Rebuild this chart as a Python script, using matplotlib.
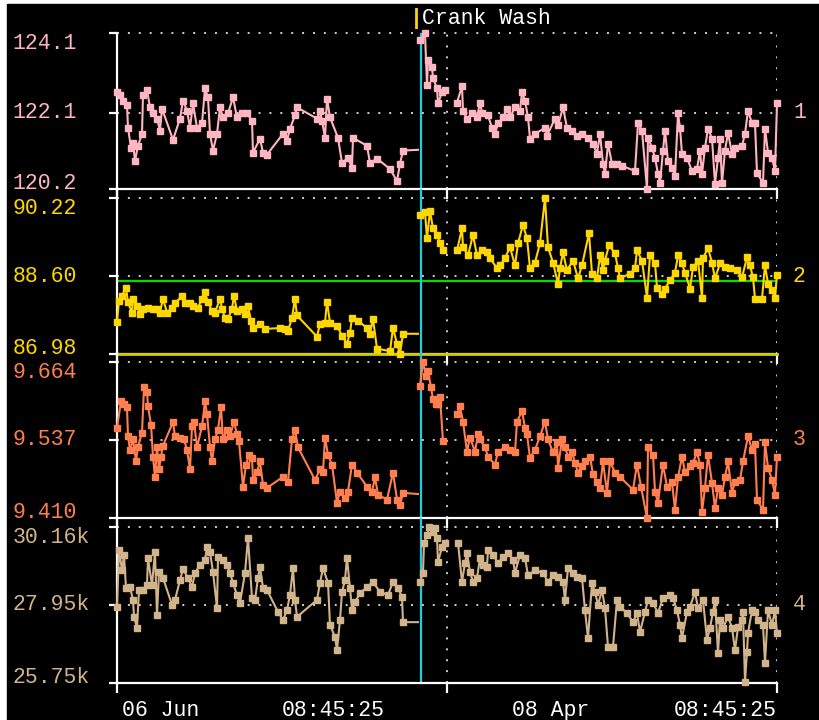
import numpy as np
import matplotlib
matplotlib.use("Agg")
import matplotlib.pyplot as plt
from matplotlib.patches import Rectangle
from matplotlib.transforms import blended_transform_factory, offset_copy

plt.rcParams['font.family'] = ['Liberation Mono', 'DejaVu Sans Mono']

# time axis (sample clock), day boundary and the crank wash event
t_first, t_last = 117, 777
t_split = 447
t_wash = 421

# --- series 1 (pink) ---
t1a = [117,120,123,127,128,131,133,135,138,142,143,147,150,153,157,160,162,173,180,183,
       187,190,193,197,202,205,208,210,213,217,220,223,228,233,237,242,247,252,253,260,
       263,267,283,287,290,295,297,317,320,322,325,327,330,338,342,348,352,353,367,370,
       377,390,397,400,403,418]
v1a = [122.62,122.54,122.41,122.31,121.73,121.23,121.36,120.90,121.28,121.58,122.54,122.67,122.24,122.11,121.96,
       121.66,122.21,121.43,121.96,122.41,122.16,121.73,122.34,121.73,121.84,122.72,122.49,121.58,121.16,121.58,
       122.24,121.99,122.09,122.49,121.99,122.09,122.09,121.91,121.11,121.46,121.11,121.06,121.58,121.41,121.71,
       122.04,122.24,121.96,122.16,121.91,121.48,122.46,121.99,121.48,120.85,120.98,120.73,121.48,121.28,120.85,
       120.96,120.70,120.40,120.83,121.16,121.18]
t1b = [420,425,427,428,432,433,437,438,442,445,457,462,463,467,472,477,480,482,488,492,
       495,498,503,507,510,515,520,522,525,528,530,535,545,547,555,558,563,567,572,577,
       582,588,593,597,600,603,605,608,612,617,622,635,638,642,647,648,652,655,658,660,
       663,665,668,672,675,678,680,682,687,692,697,700,702,705,708,712,715,718,720,722,
       725,728,732,735,742,745,748,752,755,757,763,765,768,772,775,777]
v1b = [123.92,124.10,122.79,123.42,123.24,122.97,122.72,122.34,122.62,122.67,122.36,122.77,122.16,121.96,122.09,
       121.99,122.36,122.11,122.04,121.73,121.58,121.84,121.99,122.21,121.99,122.24,122.16,122.62,122.41,121.99,
       121.46,121.58,121.73,121.53,121.96,121.79,122.24,121.73,121.66,121.53,121.58,121.48,121.33,121.08,121.58,
       120.83,120.58,121.33,120.83,120.83,120.78,120.65,121.84,121.66,120.20,121.48,121.23,120.98,120.58,120.35,
       121.16,121.66,120.90,120.73,120.53,122.09,121.73,121.08,120.98,120.65,120.70,121.16,120.58,121.23,121.71,
       121.46,120.33,120.98,121.46,120.35,121.16,121.61,121.08,121.23,121.28,121.58,122.16,121.84,121.84,120.60,
       120.35,121.71,121.11,120.98,120.65,122.34]

# --- series 2 (yellow) ---
t2a = [117,119,122,126,128,132,133,137,140,143,148,153,157,160,163,167,172,175,182,185,
       190,193,198,202,205,208,212,215,220,222,225,228,232,234,237,242,245,248,251,253,
       260,265,280,285,288,292,295,297,317,320,325,327,330,337,342,347,350,352,358,367,
       370,373,377,390,393,397,400,403,418]
v2a = [87.65,88.09,88.19,88.36,88.05,87.84,88.13,87.98,87.82,87.92,87.94,87.92,87.92,87.84,88.13,
       87.84,87.94,88.03,88.19,88.03,88.03,87.98,87.94,88.13,88.26,88.05,87.88,87.84,88.13,87.92,
       87.73,87.71,87.92,88.19,87.88,87.92,87.82,87.98,87.67,87.52,87.61,87.50,87.52,87.50,87.46,
       87.73,88.13,87.78,87.34,87.61,87.63,88.07,87.63,87.57,87.36,87.19,87.42,87.73,87.67,87.52,
       87.40,87.71,87.09,87.04,87.52,87.19,86.98,87.40,87.40]
t2b = [420,425,427,430,433,437,440,443,457,462,463,468,473,477,482,487,490,497,500,505,
       510,515,518,523,527,530,535,540,545,548,553,558,560,563,567,573,578,582,589,592,
       597,600,603,605,609,615,618,620,630,635,637,642,647,650,655,657,662,665,670,675,
       678,682,685,690,693,698,702,703,708,712,715,720,725,730,737,742,747,750,753,755,
       762,765,768,772,775,777]
v2b = [89.86,89.93,89.38,89.95,89.59,89.45,89.28,89.13,89.13,89.59,89.20,89.03,89.45,89.03,89.13,
       89.09,88.97,88.76,88.82,88.97,89.20,88.82,89.28,89.66,89.38,88.76,88.88,89.28,90.22,89.20,
       88.88,88.44,88.76,89.09,88.72,88.92,88.55,88.82,89.49,88.65,88.55,89.03,88.72,88.92,89.24,
       89.07,88.76,88.55,88.65,88.76,89.13,88.92,88.15,89.03,88.86,88.36,88.23,88.34,88.51,88.67,
       89.03,88.86,88.67,88.34,88.78,88.92,88.15,88.97,89.18,88.88,88.55,88.86,88.78,88.76,88.72,
       88.57,88.99,88.82,88.57,88.13,88.13,88.82,88.44,88.30,88.15,88.63]
upper_limit_2 = 88.49
lower_limit_2 = 86.98

# --- series 3 (coral) ---
t3a = [117,121,124,127,128,130,133,136,138,142,144,147,148,151,153,155,157,159,161,163,
       173,175,180,184,187,190,192,194,197,202,205,207,210,212,215,218,221,223,227,230,
       234,237,239,243,246,249,252,253,257,260,263,267,283,288,292,295,298,315,320,323,
       325,328,332,337,340,345,348,352,357,367,372,375,378,387,393,397,400,403,418]
v3a = [9.557,9.600,9.595,9.590,9.543,9.521,9.538,9.503,9.526,9.549,9.623,9.615,9.592,9.562,9.510,
       9.476,9.526,9.489,9.510,9.528,9.566,9.543,9.541,9.538,9.521,9.489,9.559,9.567,9.525,9.559,
       9.600,9.579,9.526,9.502,9.538,9.554,9.590,9.538,9.554,9.543,9.567,9.546,9.535,9.461,9.497,
       9.513,9.508,9.472,9.485,9.502,9.464,9.459,9.477,9.469,9.538,9.554,9.525,9.472,9.489,9.485,
       9.541,9.513,9.497,9.435,9.453,9.443,9.453,9.497,9.484,9.461,9.453,9.476,9.448,9.440,9.484,
       9.440,9.431,9.451,9.449]
t3b = [420,423,426,428,431,433,436,438,440,443,457,460,463,467,470,475,478,480,485,488,
       495,498,505,510,515,517,522,525,527,530,535,540,545,548,553,557,558,562,565,568,
       572,575,578,582,585,590,593,597,600,603,607,610,615,620,633,637,641,647,648,653,
       655,658,663,667,672,675,678,682,685,690,693,697,700,702,705,708,712,715,718,722,
       725,728,732,735,740,743,748,752,755,757,763,765,768,772,775,777]
v3b = [9.625,9.664,9.641,9.649,9.623,9.603,9.595,9.595,9.607,9.535,9.579,9.592,9.567,9.518,9.541,
       9.518,9.546,9.538,9.525,9.510,9.497,9.518,9.525,9.521,9.517,9.567,9.584,9.557,9.546,9.508,
       9.521,9.543,9.567,9.538,9.517,9.533,9.492,9.538,9.525,9.510,9.518,9.500,9.484,9.494,9.502,
       9.510,9.481,9.469,9.459,9.502,9.451,9.502,9.484,9.477,9.456,9.497,9.461,9.410,9.525,9.513,
       9.453,9.435,9.497,9.461,9.469,9.423,9.476,9.510,9.485,9.494,9.500,9.517,9.497,9.420,9.459,
       9.513,9.467,9.426,9.459,9.448,9.477,9.502,9.451,9.469,9.472,9.502,9.543,9.521,9.530,9.440,
       9.423,9.533,9.492,9.472,9.448,9.510]

# --- series 4 (tan) ---
t4a = [117,119,122,124,126,130,133,134,137,139,143,147,148,152,155,157,159,163,172,175,
       180,183,188,192,195,200,205,207,210,213,217,218,223,227,230,233,237,240,245,248,
       252,255,258,260,263,267,278,283,287,290,293,295,297,317,320,323,328,330,335,337,
       340,342,345,347,350,352,355,360,367,373,380,388,393,398,402,403,418]
v4a = [27900,29510,28940,29370,28440,28460,28100,27620,27310,28380,28380,28520,29280,28520,29450,
       27670,28890,28720,27960,28100,28660,28970,28720,28460,28860,29090,29230,29590,29450,28890,
       27870,29310,29230,29090,28860,28580,28240,28010,28860,29850,28150,28100,28720,29030,28440,
       28380,27760,27530,27810,28240,29000,28100,27620,28100,28580,29000,28580,27390,27050,26680,
       27530,28320,28660,29280,28440,27810,28040,28290,28460,28610,28320,28240,28610,28440,28180,
       27470,27470]
t4b = [420,423,424,427,429,433,435,437,438,442,445,458,462,465,467,470,473,477,480,483,
       487,488,493,498,503,508,513,515,520,525,528,535,543,548,553,558,563,565,568,573,
       577,582,585,588,592,595,598,602,605,608,613,617,620,627,633,637,640,645,648,653,
       658,663,670,673,677,680,682,687,690,695,698,703,707,710,713,715,718,720,723,728,
       732,735,738,742,743,745,747,748,752,755,758,763,765,768,772,775,777]
v4b = [28610,28860,29710,29930,30160,30020,30130,29850,29170,29590,29710,29710,28610,29140,29430,
       28890,28610,28720,29280,29090,29030,29510,29370,29140,29310,29430,29230,28860,29370,29280,
       28800,28940,28860,28610,28800,28750,28610,28100,29000,28860,28750,28720,27810,27020,28580,
       28320,27960,28380,27870,26770,26770,28100,27900,27730,27470,27730,27190,27760,28100,28010,
       27730,28150,28240,28150,27810,27390,27020,27760,27900,28320,27870,28100,26970,27310,27760,
       28100,26600,27530,27310,27620,27310,26680,27330,27530,27760,25780,26630,27160,27810,27760,
       27530,27390,26320,27810,27390,27810,27160]

colors = ['#ffb6c1', '#ffd700', '#ff7f50', '#d2b48c']
yticks = [[120.2, 122.1, 124.1], [86.98, 88.60, 90.22], [9.410, 9.537, 9.664], [25750, 27955, 30160]]
ytick_text = [['120.2', '122.1', '124.1'], ['86.98', '88.60', '90.22'],
              ['9.410', '9.537', '9.664'], ['25.75k', '27.95k', '30.16k']]
xlabel_pos = [122, 333, 551, 777]
xlabel_text = ['06 Jun', '08:45:25', '08 Apr', '08:45:25']
xlabel_ha = ['left', 'center', 'center', 'right']

series = [(t1a, v1a, t1b, v1b), (t2a, v2a, t2b, v2b), (t3a, v3a, t3b, v3b), (t4a, v4a, t4b, v4b)]

fig = plt.figure(figsize=(8.2, 7.2), dpi=100, facecolor='white')
fig.add_artist(Rectangle((7 / 820, 0), 1, 1 - 4 / 720, transform=fig.transFigure,
                         color='black', zorder=-5))

FS = 15.5
LW = 1.5
MS = 4.4
dot = (0, (1, 4.6))
bottoms = [189, 354, 518, 683]
axes = []
for i in range(4):
    ax = fig.add_axes([117 / 820, (720 - bottoms[i]) / 720, 660 / 820, 165 / 720])
    axes.append(ax)
    lo, mid, hi = yticks[i]
    c = colors[i]
    ax.patch.set_visible(False)
    ax.set_xlim(t_first, t_last)
    ax.set_ylim(lo, hi + (hi - lo) * 9 / 156)
    ax.spines['top'].set_visible(False)
    ax.spines['right'].set_visible(False)
    for s in ['left', 'bottom']:
        ax.spines[s].set_color('white')
        ax.spines[s].set_linewidth(1.6)
    if i == 0:
        ax.spines['left'].set_bounds(lo, hi)

    # dotted grid
    ax.hlines([mid, hi], t_first, t_last, colors='#d0d0d0', linestyles=dot, linewidth=1.4, zorder=1)
    ax.vlines([t_split, t_last], lo, hi, colors='#d0d0d0', linestyles=dot, linewidth=1.4, zorder=1)

    ax.set_xticks([t_first, t_split, t_last])
    ax.set_xticklabels([])
    ax.tick_params(axis='x', direction='out', length=7, width=1.6, color='white')
    ax.set_yticks(yticks[i])
    ax.set_yticklabels(ytick_text[i])
    ax.tick_params(axis='y', direction='out', length=6, width=1.6, color='white',
                   labelcolor=c, labelsize=FS, pad=69)
    for lab, va in zip(ax.get_yticklabels(), ['baseline', 'center', 'top']):
        lab.set_ha('left')
        lab.set_va(va)

    # crank wash marker
    if i == 0:
        ax.vlines(t_wash, lo, hi, color='#22ccdd', linewidth=1.6, zorder=2.5)
    else:
        ax.axvline(t_wash, color='#22ccdd', linewidth=1.6, zorder=2.5)

    ta, va_, tb, vb = series[i]
    ax.plot(ta, va_, color=c, lw=LW, marker='s', ms=MS, markevery=slice(0, len(ta) - 1),
            clip_on=False, zorder=3)
    tb = np.array(tb)
    vb = np.array(vb)
    for part in (tb < t_split, tb > t_split):
        ax.plot(tb[part], vb[part], color=c, lw=LW, marker='s', ms=MS, clip_on=False, zorder=3)

    ax.text(t_last + 16, mid, str(i + 1), color=c, fontsize=FS, ha='left', va='center')

# control limits on series 2
axes[1].axhline(upper_limit_2, color='#00dd00', lw=1.6, zorder=2)
axes[1].axhline(lower_limit_2, color='#cccc00', lw=2.0, zorder=2.6, clip_on=False)

# event title
tr = blended_transform_factory(axes[0].transData, axes[0].transAxes)
axes[0].text(t_wash - 5, 1, '|', color='#ffd700', transform=tr, ha='center', va='baseline',
             fontsize=FS, fontweight='bold')
axes[0].text(t_wash + 1, 1, 'Crank Wash', color='white', transform=tr, ha='left', va='baseline', fontsize=FS)

# time labels
ax = axes[3]
tr = offset_copy(blended_transform_factory(ax.transData, ax.transAxes), fig=fig, y=-17, units='dots')
for x, s, ha in zip(xlabel_pos, xlabel_text, xlabel_ha):
    ax.text(x, 0, s, transform=tr, ha=ha, va='top', color='white', fontsize=FS)

fig.savefig('out.png', dpi=100, facecolor=fig.get_facecolor())
